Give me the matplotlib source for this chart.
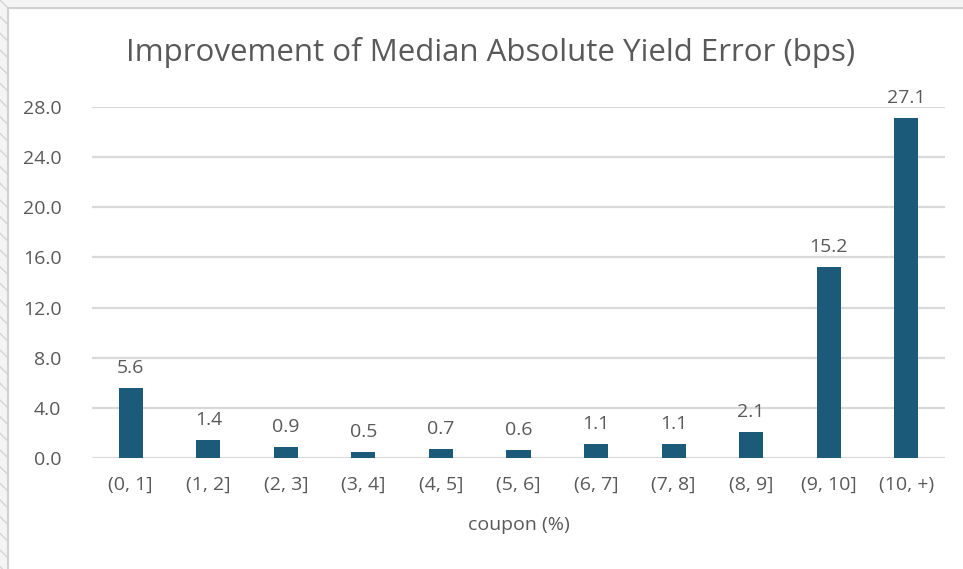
import matplotlib
matplotlib.use('Agg')
import matplotlib.pyplot as plt
import matplotlib.patches as mpatches
import numpy as np

categories = ['(0, 1]', '(1, 2]', '(2, 3]', '(3, 4]', '(4, 5]', '(5, 6]',
              '(6, 7]', '(7, 8]', '(8, 9]', '(9, 10]', '(10, +)']
improvement = [5.6, 1.4, 0.9, 0.5, 0.7, 0.6, 1.1, 1.1, 2.1, 15.2, 27.1]
y_ticks = [0, 4, 8, 12, 16, 20, 24, 28]

BAR = '#1c5a7a'
TXT = '#595959'
GRID = '#d9d9d9'

plt.rcParams['font.family'] = ['Open Sans', 'DejaVu Sans']

fig = plt.figure(figsize=(9.63, 5.69), dpi=100)
fig.patch.set_facecolor('#f4f4f4')

# striped backdrop on the left edge, white chart card on top
fig.patches.append(mpatches.Rectangle((0, 0), 8 / 963, 1, transform=fig.transFigure,
                                      facecolor='#f4f4f4', edgecolor='#d4d4d4',
                                      hatch='\\\\', linewidth=0, zorder=0))
fig.patches.append(mpatches.Rectangle((8 / 963, -0.01), 1, 1 - 8 / 569 + 0.01,
                                      transform=fig.transFigure, facecolor='white',
                                      edgecolor='#d0d0d0', linewidth=1.5, zorder=1))

ax = fig.add_axes([92 / 963, 111 / 569, 853 / 963, 351 / 569])
ax.set_facecolor('none')
ax.set_zorder(2)

x = np.arange(len(categories))
ax.bar(x, improvement, width=0.31, color=BAR, zorder=3)
for xi, v in zip(x, improvement):
    ax.annotate(f'{v:.1f}', (xi, v), xytext=(0, 8), textcoords='offset points',
                ha='center', va='bottom', fontsize=14, color=TXT, annotation_clip=False)

ax.set_xlim(-0.5, len(categories) - 0.5)
ax.set_ylim(0, 28)
ax.set_yticks(y_ticks)
ax.set_yticklabels([f'{t:.1f}' for t in y_ticks])
ax.set_xticks(x)
ax.set_xticklabels(categories)
ax.yaxis.grid(True, color=GRID, linewidth=1.6, zorder=0)
ax.set_axisbelow(True)
for s in ax.spines.values():
    s.set_visible(False)
ax.tick_params(axis='both', length=0, labelsize=14, labelcolor=TXT)
ax.tick_params(axis='y', pad=22)
ax.tick_params(axis='x', pad=13)

ax.set_xlabel('coupon (%)', fontsize=14, color=TXT, labelpad=16)
fig.text(491 / 963, 1 - 52 / 569, 'Improvement of Median Absolute Yield Error (bps)',
         ha='center', va='center', fontsize=22.5, color=TXT, zorder=5)

plt.savefig('out.png', dpi=100, facecolor=fig.get_facecolor())
